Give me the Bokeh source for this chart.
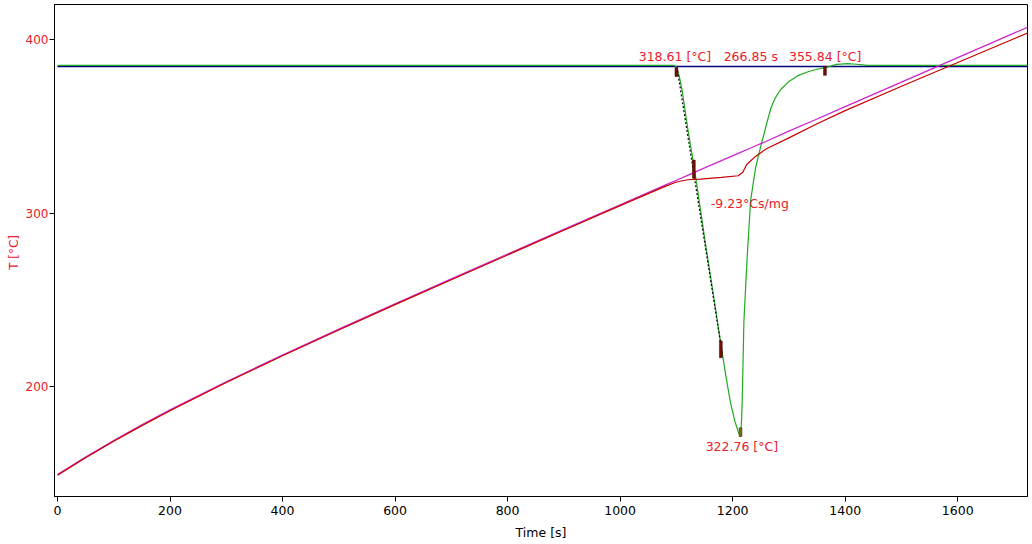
from bokeh.plotting import figure
from bokeh.models import Range1d, FixedTicker, ColumnDataSource
from bokeh.core.properties import value
from bokeh.embed import file_html
from bokeh.resources import INLINE

# ---- data ----
time_s = [0, 50, 100, 150, 200, 300, 400, 500, 600, 700, 800, 900, 1000,
          1080, 1100, 1120, 1143, 1180, 1210, 1218, 1225, 1240, 1260, 1300,
          1350, 1400, 1500, 1600, 1700, 1725]
t_reference = [149.4, 159.6, 169.1, 178.1, 186.7, 202.9, 218.3, 233.2, 247.8,
               262.1, 276.4, 290.6, 304.8, 316.1, 318.9, 321.7, 325.0, 330.2,
               334.4, 335.5, 336.5, 338.6, 341.4, 347.2, 354.2, 361.3, 375.4,
               389.5, 403.6, 407.1]
t_sample = [149.0, 159.1, 168.6, 177.6, 186.2, 202.4, 217.8, 232.7, 247.3,
            261.6, 275.9, 290.1, 304.3, 315.4, 317.9, 319.2, 319.6, 320.6,
            321.5, 323.5, 328.0, 332.5, 337.0, 343.3, 351.4, 359.0, 373.0,
            386.7, 400.4, 403.8]

dsc_time = [0, 500, 1000, 1095, 1100, 1105, 1110, 1120, 1131, 1140, 1150, 1160,
            1170, 1179, 1188, 1196, 1204, 1210, 1214, 1216, 1217, 1220, 1226,
            1232, 1241, 1250, 1260, 1268, 1276, 1285, 1300, 1315, 1335, 1350,
            1368, 1385, 1404, 1420, 1440, 1600, 1725]
dsc_signal = [385.1, 385.1, 385.1, 385.1, 384.3, 379.0, 371.0, 349.0, 327.6,
              308.0, 286.0, 265.0, 244.0, 224.5, 206.0, 191.0, 180.0, 174.0,
              171.3, 182.0, 192.5, 238.0, 276.0, 307.5, 326.5, 338.5, 351.0,
              360.5, 366.5, 371.0, 375.8, 379.0, 381.5, 382.8, 384.0, 385.6,
              386.0, 385.7, 385.1, 385.1, 385.1]

baseline_time = [0, 1725]
baseline_value = [384.4, 384.4]

tangent_time = [1102, 1182]
tangent_value = [382.0, 218.0]

marker_time = [1100, 1131, 1179, 1364]
marker_low = [378.6, 320.1, 216.7, 379.3]
marker_high = [383.8, 330.5, 226.4, 384.5]
peak_marker_time = [1214]
peak_marker_low = [171.3]
peak_marker_high = [176.4]

label_text = ["318.61 [°C]", "266.85 s", "355.84 [°C]", "-9.23°Cs/mg", "322.76 [°C]"]
label_time = [1033, 1184, 1300, 1161, 1152]
label_value = [390.2, 390.2, 390.2, 305.7, 165.5]

x_ticks = [0, 200, 400, 600, 800, 1000, 1200, 1400, 1600]
y_ticks = [200, 300, 400]

RED_TEXT = "#e8202a"
FONT = "DejaVu Sans"

p = figure(width=1029, height=542, output_backend="svg", toolbar_location=None,
           x_range=Range1d(-5.3, 1724), y_range=Range1d(136.8, 420.1),
           min_border_left=54, min_border_right=2, min_border_top=4,
           min_border_bottom=45)
p.background_fill_color = "white"
p.border_fill_color = "white"
p.outline_line_color = "black"
p.outline_line_width = 1
p.grid.visible = False

p.line(baseline_time, baseline_value, color="#000080", line_width=1.5)
p.line(dsc_time, dsc_signal, color="#1faa1f", line_width=1.2)
p.line(tangent_time, tangent_value, color="#111111", line_width=1.3, line_dash="2 2")
p.line(time_s, t_reference, color="#cc22cc", line_width=1.2)
p.line(time_s, t_sample, color="#c80000", line_width=1.2)

p.vbar(x=marker_time, width=5, bottom=marker_low, top=marker_high,
       fill_color="#7a0a0a", line_color="#3a0000", line_width=0.5)
p.vbar(x=peak_marker_time, width=5, bottom=peak_marker_low, top=peak_marker_high,
       fill_color="#7a6a10", line_color="#3a2a00", line_width=0.5)

src = ColumnDataSource(dict(x=label_time, y=label_value, t=label_text))
p.text(x="x", y="y", text="t", source=src, text_color=RED_TEXT,
       text_font=value(FONT), text_font_size="12.5px",
       text_align="left", text_baseline="middle")

xa = p.xaxis[0]
xa.ticker = FixedTicker(ticks=x_ticks)
xa.axis_label = "Time [s]"
xa.axis_label_text_font = FONT
xa.axis_label_text_font_size = "12.5px"
xa.axis_label_text_font_style = "normal"
xa.axis_label_text_color = "black"
xa.axis_label_standoff = 7
xa.major_label_text_font = FONT
xa.major_label_text_font_size = "12.5px"
xa.major_label_text_color = "black"
xa.major_label_standoff = 4
xa.major_tick_in = 0
xa.major_tick_out = 5
xa.minor_tick_in = 0
xa.minor_tick_out = 0
xa.axis_line_color = "black"

ya = p.yaxis[0]
ya.ticker = FixedTicker(ticks=y_ticks)
ya.axis_label = "T  [°C]"
ya.axis_label_text_font = FONT
ya.axis_label_text_font_size = "12px"
ya.axis_label_text_font_style = "normal"
ya.axis_label_text_color = RED_TEXT
ya.axis_label_standoff = 2
ya.major_label_text_font = FONT
ya.major_label_text_font_size = "12px"
ya.major_label_text_color = RED_TEXT
ya.major_label_standoff = 1
ya.major_tick_in = 0
ya.major_tick_out = 5
ya.minor_tick_in = 0
ya.minor_tick_out = 0
ya.axis_line_color = "black"

open("out.html", "w").write(file_html(p, INLINE))
